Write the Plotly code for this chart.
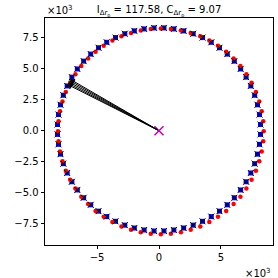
import plotly.graph_objects as go

# values in units of 10^3
blue_x = [8.19, 8.11, 7.95, 7.72, 7.41, 7.03, 6.59, 6.08, 5.51, 4.88, 4.22, 3.51, 2.76, 1.99, 1.20, 0.40,
          -0.40, -1.20, -1.99, -2.76, -3.51, -4.22, -4.88, -5.51, -6.08, -6.59, -7.03, -7.41, -7.72, -7.95, -8.11, -8.19,
          -8.19, -8.11, -7.95, -7.72, -7.41, -7.03, -6.59, -6.08, -5.51, -4.88, -4.22, -3.51, -2.76, -1.99, -1.20, -0.40,
          0.40, 1.20, 1.99, 2.76, 3.51, 4.22, 4.88, 5.51, 6.08, 6.59, 7.03, 7.41, 7.72, 7.95, 8.11, 8.19]
blue_y = [0.50, 1.30, 2.09, 2.86, 3.61, 4.32, 4.98, 5.61, 6.18, 6.69, 7.13, 7.51, 7.82, 8.05, 8.21, 8.29,
          8.29, 8.21, 8.05, 7.82, 7.51, 7.13, 6.69, 6.18, 5.61, 4.98, 4.32, 3.61, 2.86, 2.09, 1.30, 0.50,
          -0.30, -1.10, -1.89, -2.66, -3.41, -4.12, -4.78, -5.41, -5.98, -6.49, -6.93, -7.31, -7.62, -7.85, -8.01, -8.09,
          -8.09, -8.01, -7.85, -7.62, -7.31, -6.93, -6.49, -5.98, -5.41, -4.78, -4.12, -3.41, -2.66, -1.89, -1.10, -0.30]

red_x = [8.45, 8.41, 8.29, 8.09, 7.82, 7.47, 7.05, 6.57, 6.02, 5.42, 4.76, 4.06, 3.33, 2.56, 1.77, 0.96,
         0.15, -0.66, -1.47, -2.26, -3.03, -3.76, -4.46, -5.12, -5.72, -6.27, -6.75, -7.17, -7.52, -7.79, -7.99, -8.11,
         -8.15, -8.11, -7.99, -7.79, -7.52, -7.17, -6.75, -6.27, -5.72, -5.12, -4.46, -3.76, -3.03, -2.26, -1.47, -0.66,
         0.15, 0.96, 1.77, 2.56, 3.33, 4.06, 4.76, 5.42, 6.02, 6.57, 7.05, 7.47, 7.82, 8.09, 8.29, 8.41]
red_y = [-0.05, 0.76, 1.57, 2.36, 3.13, 3.86, 4.56, 5.22, 5.82, 6.37, 6.85, 7.27, 7.62, 7.89, 8.09, 8.21,
         8.25, 8.21, 8.09, 7.89, 7.62, 7.27, 6.85, 6.37, 5.82, 5.22, 4.56, 3.86, 3.13, 2.36, 1.57, 0.76,
         -0.05, -0.86, -1.67, -2.46, -3.23, -3.96, -4.66, -5.32, -5.92, -6.47, -6.95, -7.37, -7.72, -7.99, -8.19, -8.31,
         -8.35, -8.31, -8.19, -7.99, -7.72, -7.37, -6.95, -6.47, -5.92, -5.32, -4.66, -3.96, -3.23, -2.46, -1.67, -0.86]

origin_x = [0.0]
origin_y = [0.0]

arrow_x = [-7.41, -7.36, -7.30, -7.24, -7.19]
arrow_y = [3.74, 3.84, 3.95, 4.06, 4.16]

x_ticks = [-5, 0, 5]
x_labels = ["\u22125", "0", "5"]
y_ticks = [-7.5, -5, -2.5, 0, 2.5, 5, 7.5]
y_labels = ["\u22127.5", "\u22125.0", "\u22122.5", "0.0", "2.5", "5.0", "7.5"]

title_text = "I<sub>\u0394r<sub>p</sub></sub> = 117.58, C<sub>\u0394r<sub>p</sub></sub> = 9.07"

fig = go.Figure()
fig.add_trace(go.Scatter(x=blue_x, y=blue_y, mode="markers",
                         marker=dict(symbol="square", size=5, color="#0000ff", line=dict(width=0))))
fig.add_trace(go.Scatter(x=red_x, y=red_y, mode="markers",
                         marker=dict(symbol="circle", size=4.5, color="#ff0000", line=dict(width=0))))
fig.add_trace(go.Scatter(x=blue_x, y=blue_y, mode="markers",
                         marker=dict(symbol="x-thin", size=6, line=dict(width=1, color="black"))))
fig.add_trace(go.Scatter(x=origin_x, y=origin_y, mode="markers",
                         marker=dict(symbol="x-thin", size=9, line=dict(width=1.5, color="#bf00bf"))))

for ex, ey in zip(arrow_x, arrow_y):
    fig.add_annotation(x=ex, y=ey, ax=origin_x[0], ay=origin_y[0], xref="x", yref="y",
                       axref="x", ayref="y", text="", showarrow=True, arrowhead=2,
                       arrowsize=1, arrowwidth=1, arrowcolor="black")

fig.add_annotation(text="\u00d710<sup>3</sup>", xref="paper", yref="paper", x=0.0, y=1.0,
                   xanchor="left", yanchor="bottom", showarrow=False,
                   font=dict(family="DejaVu Sans", size=10, color="black"))
fig.add_annotation(text="\u00d710<sup>3</sup>", xref="paper", yref="paper", x=1.0, y=-0.09,
                   xanchor="right", yanchor="top", showarrow=False,
                   font=dict(family="DejaVu Sans", size=10, color="black"))

axis_common = dict(showgrid=False, zeroline=False, showline=True, mirror=True,
                   linecolor="black", linewidth=0.8, ticks="outside", ticklen=3.5,
                   tickwidth=0.8, tickcolor="black",
                   tickfont=dict(family="DejaVu Sans", size=10, color="black"))

fig.update_layout(
    width=278, height=278,
    margin=dict(l=45, r=5, t=18, b=33),
    paper_bgcolor="white", plot_bgcolor="white",
    showlegend=False,
    title=dict(text=title_text, x=0.5, xref="paper", y=0.965, yanchor="middle",
               font=dict(family="DejaVu Sans", size=10, color="black")),
    xaxis=dict(range=[-9.2, 9.2], tickvals=x_ticks, ticktext=x_labels, **axis_common),
    yaxis=dict(range=[-9.22, 9.09], tickvals=y_ticks, ticktext=y_labels, **axis_common),
)

fig.write_html("out.html", config={"displayModeBar": False},
               post_script="document.body.style.margin='0';document.body.style.padding='0';")
